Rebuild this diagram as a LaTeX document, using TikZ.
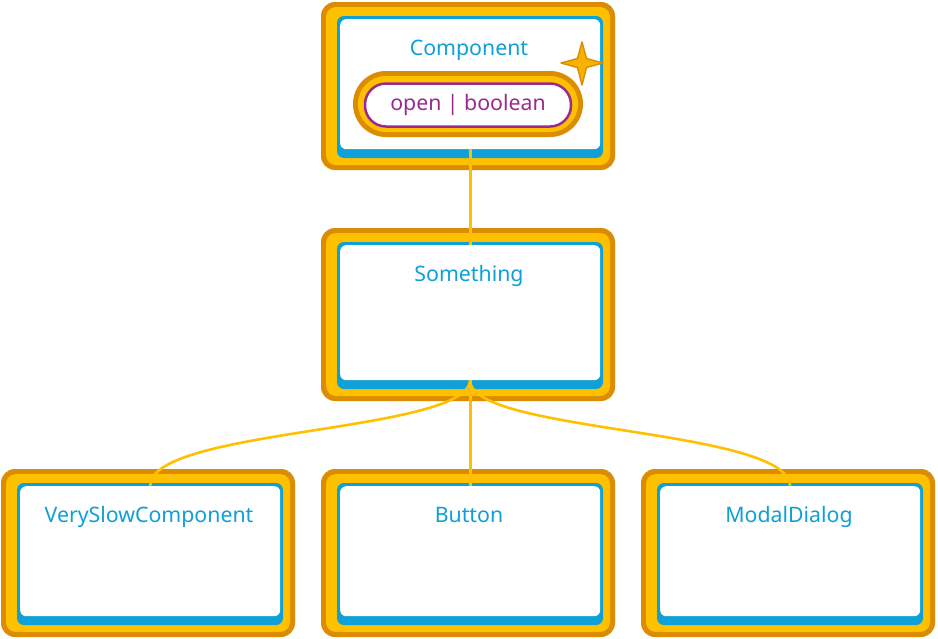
\documentclass[tikz,border=0pt]{standalone}
\usepackage{fontspec}
\setmainfont{Noto Sans}
\definecolor{dorange}{HTML}{DB8C00}
\definecolor{uyellow}{HTML}{FFC000}
\definecolor{ublue}{HTML}{0EA0D6}
\definecolor{upurple}{HTML}{9B2A8F}
\definecolor{starfill}{HTML}{F7B200}
\tikzset{
  whitebox/.style={fill=white, rounded corners=6pt, inner sep=0pt, minimum width=260pt, anchor=north west},
  boxtext/.style={text=ublue, font=\fontsize{21.3}{25}\selectfont, inner sep=0pt, anchor=base},
  conn/.style={draw=uyellow, line width=2.6pt},
  pill/.style={draw=upurple, line width=2.5pt, fill=white, rounded corners=21pt, minimum width=206pt, minimum height=43pt, inner sep=0pt, text=upurple, font=\fontsize{21.3}{25}\selectfont}
}
% name, x, y, height, text
\newcommand\umlbox[5]{%
  \fill[dorange, rounded corners=14pt] (#2,#3) rectangle ({#2+294},{#3+#4});
  \fill[uyellow, rounded corners=10pt] ({#2+5},{#3+5}) rectangle ({#2+289},{#3+#4-5});
  \fill[ublue, rounded corners=7pt] ({#2+16},{#3+14}) rectangle ({#2+282},{#3+#4-12});
  \node[whitebox, minimum height={(#4-38)*1pt}] (#1) at ({#2+19},{#3+17}) {};
  \node[boxtext] (#1-t) at ({#2+148},{#3+53}) {#5};
}
\begin{document}
\begin{tikzpicture}[x=1pt,y=-1pt]
\useasboundingbox (0,0) rectangle (938,638);
\umlbox{comp}{321}{2}{168}{Component}
\umlbox{some}{321}{228}{173}{Something}
\umlbox{vsc}{1}{469}{168}{VerySlowComponent}
\umlbox{btn}{321}{469}{168}{Button}
\umlbox{modal}{641}{469}{168}{ModalDialog}
% attribute pill
\fill[dorange, rounded corners=33pt] (353,71) rectangle (583,137);
\fill[uyellow, rounded corners=28pt] (358,76) rectangle (578,132);
\node[pill] (attr) at (468,105) {open | boolean};
% star
\filldraw[fill=starfill, draw=dorange, line width=1.4pt, line join=round]
  (582,42) -- (586.5,58.5) -- (603,63) -- (586.5,67.5) -- (582,85) -- (577.5,67.5) -- (561,63) -- (577.5,58.5) -- cycle;
% connectors
\draw[conn] (comp.south) -- (some.north);
\draw[conn] (some.south) -- (btn.north);
\draw[conn] (some.south) .. controls (466,433) and (150,428) .. (vsc.north);
\draw[conn] (some.south) .. controls (470,433) and (788,428) .. (modal.north);
\end{tikzpicture}
\end{document}
